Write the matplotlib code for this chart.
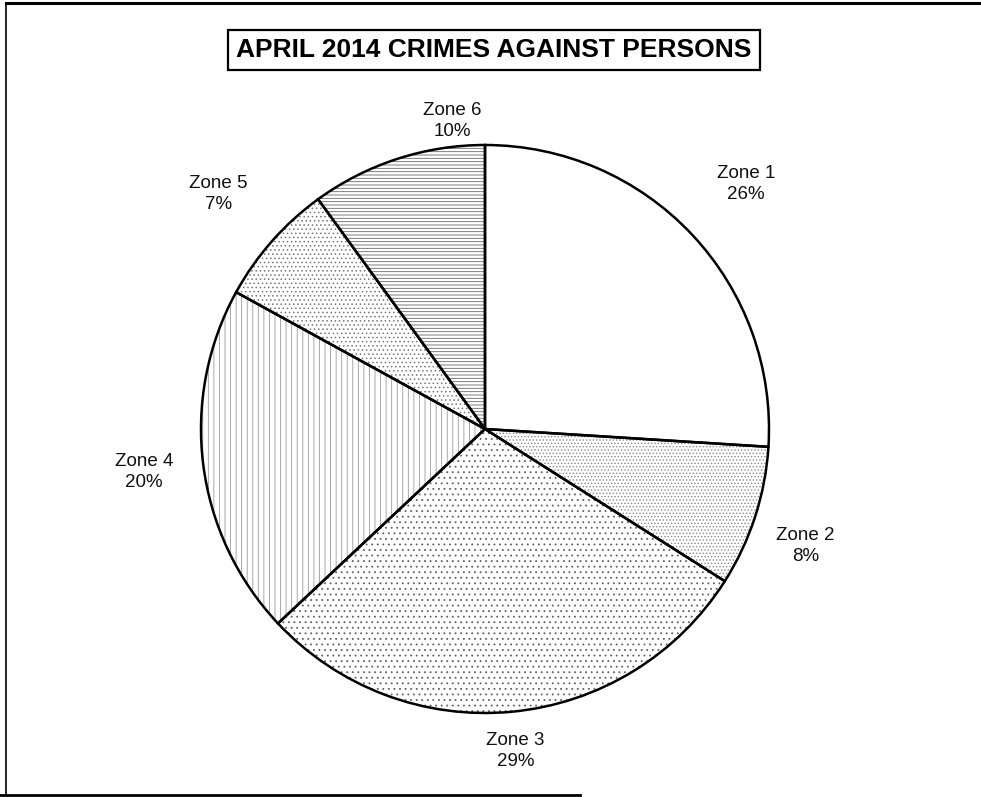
import numpy as np
import matplotlib.pyplot as plt
from matplotlib.lines import Line2D

plt.rcParams['font.family'] = ['Liberation Sans', 'DejaVu Sans']
plt.rcParams['hatch.linewidth'] = 0.6

# data
zones = ['Zone 1', 'Zone 2', 'Zone 3', 'Zone 4', 'Zone 5', 'Zone 6']
shares = [26, 8, 29, 20, 7, 10]
title = 'APRIL 2014 CRIMES AGAINST PERSONS'

# styling per slice (scanned b/w patterns)
hatches = ['', '.....', '...', '|||', '....', '-----']
hatch_colors = ['white', '#8a8a8a', '#606060', '#9a9a9a', '#777777', '#666666']
label_dist = [1.26, 1.20, 1.14, 1.21, 1.25, 1.09]
label_shift = [0, -2, 0, 0, 0, -12]  # degrees

W, H = 981, 797
fig = plt.figure(figsize=(W / 100, H / 100), dpi=100)
ax = fig.add_axes([0, 0, 1, 1])

cx, cy, r = 485, H - 429, 284

# hatched fills
wedges, _ = ax.pie(shares, startangle=90, counterclock=False, center=(cx, cy),
                   radius=r, frame=True,
                   wedgeprops=dict(linewidth=0, facecolor='white'))
for w, h, hc in zip(wedges, hatches, hatch_colors):
    w.set_hatch(h)
    w.set_edgecolor(hc)

# black outlines on top
outl, _ = ax.pie(shares, startangle=90, counterclock=False, center=(cx, cy),
                 radius=r, frame=True,
                 wedgeprops=dict(linewidth=1.8, edgecolor='black', fill=False))
ax.set_xlim(0, W)
ax.set_ylim(0, H)
ax.set_aspect('equal')
ax.axis('off')

for w, name, val, d, s in zip(wedges, zones, shares, label_dist, label_shift):
    ang = np.deg2rad((w.theta1 + w.theta2) / 2 + s)
    x = cx + r * d * np.cos(ang)
    y = cy + r * d * np.sin(ang)
    ax.text(x, y, f'{name}\n{val}%', ha='center', va='center', fontsize=13.5,
            linespacing=1.3, color='#111111')

ax.text(494, H - 50, title, ha='center', va='center', fontsize=19,
        fontweight='bold',
        bbox=dict(boxstyle='square,pad=0.3', facecolor='white',
                  edgecolor='black', linewidth=1.6))

# scanned page frame
fig.add_artist(Line2D([6 / W, 6 / W], [1 - 3 / H, 1 - 795 / H], color='black',
                      linewidth=1.2, transform=fig.transFigure))
fig.add_artist(Line2D([6 / W, 1], [1 - 3 / H, 1 - 3 / H], color='black',
                      linewidth=2.2, transform=fig.transFigure))
fig.add_artist(Line2D([0, 580 / W], [1 - 795 / H, 1 - 795 / H], color='black',
                      linewidth=2.0, transform=fig.transFigure))

fig.savefig('out.png', dpi=100, facecolor='white')
